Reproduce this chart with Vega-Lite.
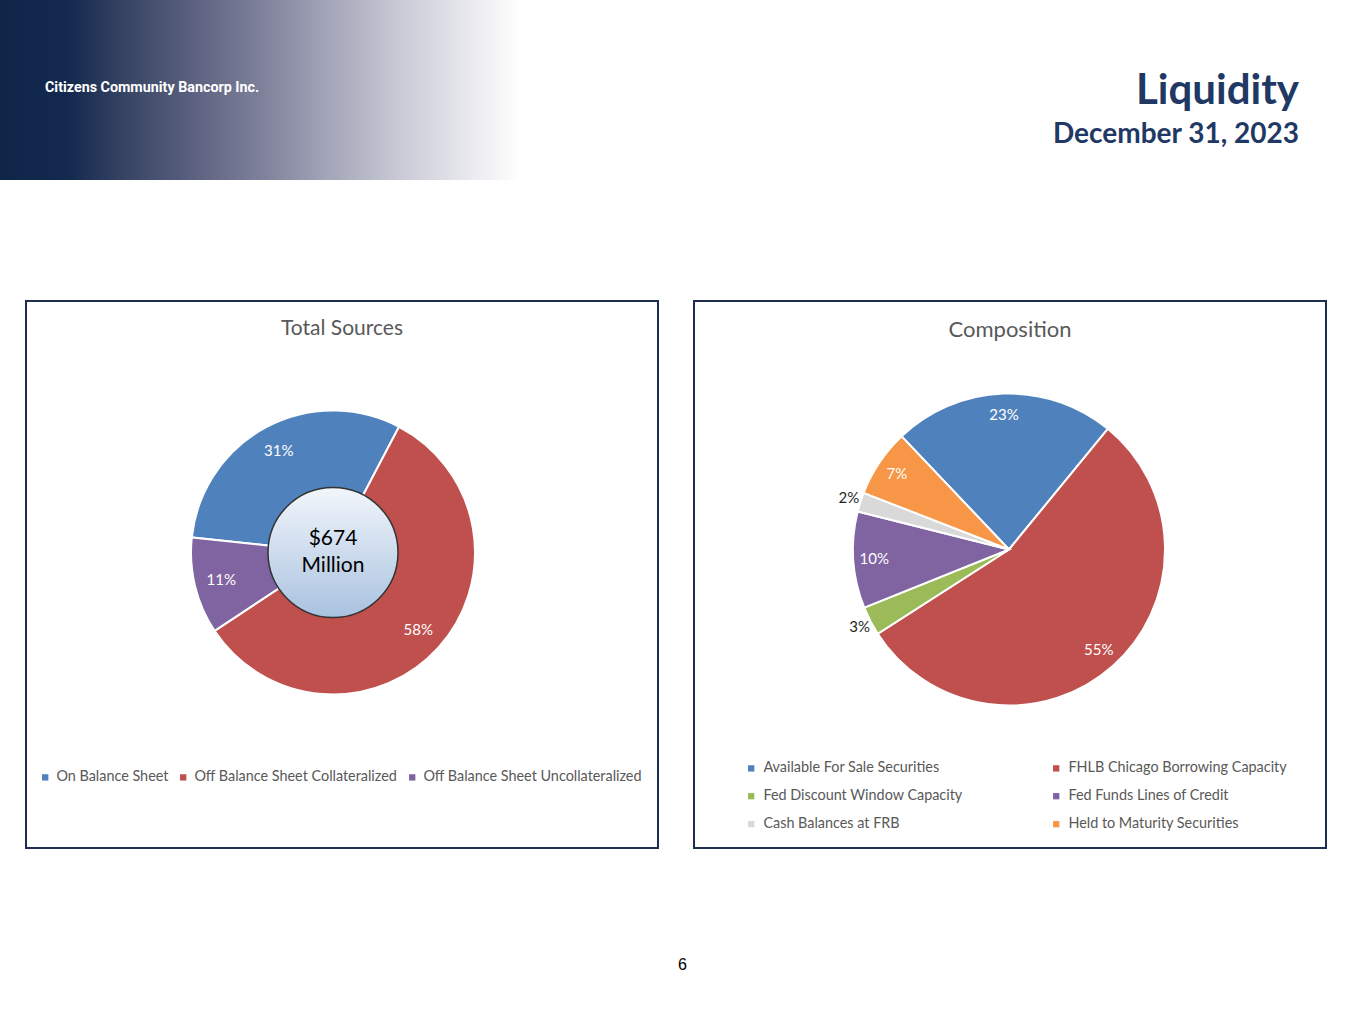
{
  "$schema": "https://vega.github.io/schema/vega-lite/v6.json",
  "padding": 0,
  "background": "#FFFFFF",
  "config": {"view": {"stroke": null}, "font": "Lato"},
  "title": {"text": "6", "orient": "bottom", "anchor": "middle", "offset": 108, "font": "Liberation Sans", "fontSize": 16, "fontWeight": "normal", "color": "#000000"},
  "spacing": 120,
  "vconcat": [
    {
      "spacing": 0,
      "hconcat": [
        {
          "width": 520, "height": 180,
          "data": {"values": [{"band": "header"}]},
          "mark": {"type": "rect", "fill": {"gradient": "linear", "x1": 0, "y1": 0, "x2": 1, "y2": 0, "stops": [
            {"offset": 0, "color": "#0F2548"},
            {"offset": 0.13, "color": "#13294F"},
            {"offset": 0.25, "color": "#3A4665"},
            {"offset": 0.38, "color": "#5E6382"},
            {"offset": 0.5, "color": "#7D8099"},
            {"offset": 0.63, "color": "#A3A5B8"},
            {"offset": 0.77, "color": "#C9CAD5"},
            {"offset": 0.9, "color": "#E8E8EE"},
            {"offset": 1, "color": "#FFFFFF"}
          ]}},
          "encoding": {},
          "title": {"text": "Citizens Community Bancorp Inc.", "anchor": "start", "frame": "group", "dx": 45, "offset": -95, "font": "Roboto", "fontSize": 14.3, "fontWeight": "bold", "color": "#FFFFFF"}
        },
        {
          "width": 845, "height": 180,
          "data": {"values": [{"band": "header"}]},
          "mark": {"type": "rect", "fill": "#FFFFFF"},
          "encoding": {},
          "title": {"text": "Liquidity", "subtitle": "December 31, 2023", "anchor": "end", "frame": "group", "dx": -66, "offset": -150, "font": "Lato", "fontSize": 42, "fontWeight": "bold", "color": "#1F3864", "subtitleFont": "Lato", "subtitleFontSize": 28, "subtitleFontWeight": "bold", "subtitleColor": "#1F3864", "subtitlePadding": 8}
        }
      ]
    },
    {
      "spacing": 0,
      "hconcat": [
        {"width": 25, "height": 10, "data": {"values": []}, "mark": "point", "encoding": {}},
        {
          "spacing": 34,
          "resolve": {"scale": {"color": "independent", "theta": "independent"}, "legend": {"color": "independent"}},
          "hconcat": [
            {
              "width": 632, "height": 547,
              "view": {"stroke": "#1F2D4E", "strokeWidth": 2},
              "title": {"text": "Total Sources", "anchor": "middle", "offset": -38, "font": "Lato", "fontSize": 21, "fontWeight": "normal", "color": "#595959"},
              "data": {"values": [
                {"source": "On Balance Sheet", "share": 31, "label": "31%", "rank": 1},
                {"source": "Off Balance Sheet Collateralized", "share": 58, "label": "58%", "rank": 2},
                {"source": "Off Balance Sheet Uncollateralized", "share": 11, "label": "11%", "rank": 3}
              ]},
              "layer": [
                {
                  "mark": {"type": "arc", "innerRadius": 64, "outerRadius": 142, "stroke": "#FFFFFF", "strokeWidth": 2, "xOffset": -9, "yOffset": -22},
                  "encoding": {
                    "theta": {"field": "share", "type": "quantitative", "stack": true, "scale": {"range": [-1.4643, 4.8189]}},
                    "order": {"field": "rank", "type": "quantitative"},
                    "color": {"field": "source", "type": "nominal",
                      "scale": {"domain": ["On Balance Sheet", "Off Balance Sheet Collateralized", "Off Balance Sheet Uncollateralized"], "range": ["#4F81BD", "#C0504D", "#8064A2"]},
                      "legend": {"orient": "none", "legendX": 12, "legendY": 469, "direction": "horizontal", "title": null, "symbolType": "square", "symbolSize": 40, "symbolStrokeWidth": 0, "labelFontSize": 14.4, "labelFont": "Lato", "labelColor": "#595959", "columnPadding": 7, "labelOffset": 4, "padding": 0, "labelLimit": 400}
                    }
                  }
                },
                {
                  "mark": {"type": "text", "radius": 115, "fill": "#FFFFFF", "fontSize": 15, "font": "Lato", "xOffset": -9, "yOffset": -22},
                  "encoding": {
                    "theta": {"field": "share", "type": "quantitative", "stack": true},
                    "order": {"field": "rank", "type": "quantitative"},
                    "text": {"field": "label"}
                  }
                },
                {
                  "data": {"values": [{"total": "$674\nMillion"}]},
                  "mark": {"type": "point", "shape": "circle", "size": 16900, "filled": true, "opacity": 1,
                    "fill": {"gradient": "linear", "x1": 0, "y1": 0, "x2": 0, "y2": 1, "stops": [{"offset": 0, "color": "#F2F6FB"}, {"offset": 1, "color": "#A9C2E0"}]},
                    "stroke": "#333333", "strokeWidth": 1.5, "xOffset": -9, "yOffset": -22},
                  "encoding": {}
                },
                {
                  "data": {"values": [{"total": "$674\nMillion"}]},
                  "mark": {"type": "text", "lineBreak": "\n", "fontSize": 21, "lineHeight": 27, "font": "Lato", "color": "#000000", "xOffset": -9, "yOffset": -36},
                  "encoding": {"text": {"field": "total"}}
                }
              ]
            },
            {
              "width": 632, "height": 547,
              "view": {"stroke": "#1F2D4E", "strokeWidth": 2},
              "title": {"text": "Composition", "anchor": "middle", "offset": -41, "font": "Lato", "fontSize": 22, "fontWeight": "normal", "color": "#595959"},
              "data": {"values": [
                {"source": "Available For Sale Securities", "share": 23, "label": "23%", "rank": 1},
                {"source": "FHLB Chicago Borrowing Capacity", "share": 55, "label": "55%", "rank": 2},
                {"source": "Fed Discount Window Capacity", "share": 3, "label": "3%", "rank": 3},
                {"source": "Fed Funds Lines of Credit", "share": 10, "label": "10%", "rank": 4},
                {"source": "Cash Balances at FRB", "share": 2, "label": "2%", "rank": 5},
                {"source": "Held to Maturity Securities", "share": 7, "label": "7%", "rank": 6}
              ]},
              "layer": [
                {
                  "mark": {"type": "arc", "outerRadius": 156, "stroke": "#FFFFFF", "strokeWidth": 2, "xOffset": -1, "yOffset": -25},
                  "encoding": {
                    "theta": {"field": "share", "type": "quantitative", "stack": true, "scale": {"range": [-0.7592, 5.524]}},
                    "order": {"field": "rank", "type": "quantitative"},
                    "color": {"field": "source", "type": "nominal",
                      "scale": {"domain": ["Available For Sale Securities", "FHLB Chicago Borrowing Capacity", "Fed Discount Window Capacity", "Fed Funds Lines of Credit", "Cash Balances at FRB", "Held to Maturity Securities"], "range": ["#4F81BD", "#C0504D", "#9BBB59", "#8064A2", "#D9D9D9", "#F79646"]},
                      "legend": {"orient": "none", "legendX": 50, "legendY": 460, "direction": "horizontal", "columns": 2, "title": null, "symbolType": "square", "symbolSize": 40, "symbolStrokeWidth": 0, "labelFontSize": 14.4, "labelFont": "Lato", "labelColor": "#595959", "columnPadding": 86, "rowPadding": 13, "labelOffset": 5, "padding": 0, "labelLimit": 400}
                    }
                  }
                },
                {
                  "mark": {"type": "text", "radius": 135, "fill": "#FFFFFF", "fontSize": 15, "font": "Lato", "xOffset": -1, "yOffset": -25},
                  "encoding": {
                    "theta": {"field": "share", "type": "quantitative", "stack": true},
                    "order": {"field": "rank", "type": "quantitative"},
                    "text": {"condition": {"test": "datum.share >= 5", "field": "label"}, "value": ""}
                  }
                },
                {
                  "mark": {"type": "text", "radius": 168, "fill": "#262626", "fontSize": 15, "font": "Lato", "xOffset": -1, "yOffset": -25},
                  "encoding": {
                    "theta": {"field": "share", "type": "quantitative", "stack": true},
                    "order": {"field": "rank", "type": "quantitative"},
                    "text": {"condition": {"test": "datum.share < 5", "field": "label"}, "value": ""}
                  }
                }
              ]
            }
          ]
        }
      ]
    }
  ]
}
